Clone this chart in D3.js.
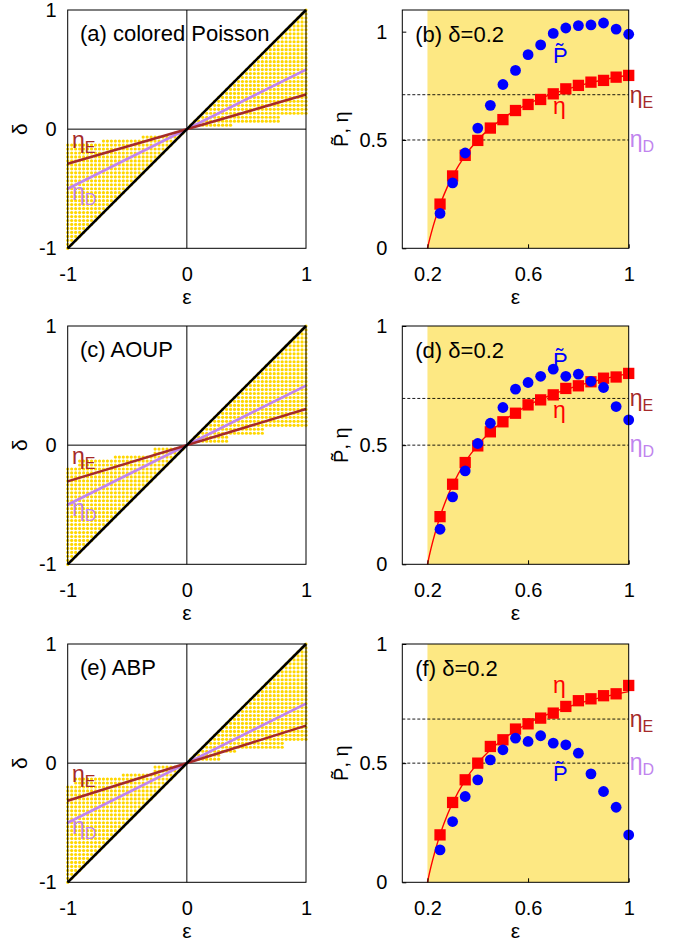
<!DOCTYPE html>
<html>
<head>
<meta charset="utf-8">
<script src="https://cdn.jsdelivr.net/npm/d3@7"></script>
<style>
  body { margin: 0; background: #fff; }
  svg { display: block; }
  text { font-family: "Liberation Sans", Arial, sans-serif; }
</style>
</head>
<body>
<svg id="fig" width="684" height="941"></svg>
<script>
// ---------------- data ----------------
// sampled activity values for the efficiency / power runs at fixed delta
const epsSamples = [0.25, 0.30, 0.35, 0.40, 0.45, 0.50, 0.55, 0.60, 0.65, 0.70, 0.75, 0.80, 0.85, 0.90, 0.95, 1.00];

// (b) colored Poisson
const etaB = [0.204, 0.334, 0.429, 0.498, 0.555, 0.594, 0.636, 0.664, 0.687, 0.713, 0.736, 0.752, 0.767, 0.775, 0.790, 0.798];
const powB = [0.161, 0.302, 0.440, 0.555, 0.660, 0.756, 0.821, 0.894, 0.939, 0.992, 1.017, 1.028, 1.031, 1.040, 1.012, 0.988];
// (d) AOUP
const etaD = [0.200, 0.336, 0.427, 0.497, 0.556, 0.598, 0.634, 0.669, 0.690, 0.711, 0.738, 0.749, 0.766, 0.781, 0.786, 0.801];
const powD = [0.147, 0.283, 0.392, 0.507, 0.592, 0.658, 0.735, 0.763, 0.789, 0.819, 0.789, 0.798, 0.768, 0.742, 0.662, 0.606];
// (f) ABP
const etaF = [0.199, 0.335, 0.430, 0.500, 0.570, 0.598, 0.643, 0.665, 0.689, 0.710, 0.738, 0.762, 0.770, 0.783, 0.791, 0.826];
const powF = [0.136, 0.255, 0.360, 0.430, 0.514, 0.556, 0.605, 0.591, 0.615, 0.584, 0.577, 0.542, 0.455, 0.381, 0.315, 0.199];

// theoretical efficiency curve at delta = 0.2
const curveEps = [0.20, 0.21, 0.22, 0.23, 0.25, 0.28, 0.30, 0.35, 0.40, 0.50, 0.60, 0.70, 0.80, 0.90, 1.00];
const curveEta = [0.000, 0.048, 0.091, 0.130, 0.200, 0.286, 0.333, 0.429, 0.500, 0.600, 0.667, 0.714, 0.750, 0.778, 0.800];

// reference efficiencies per model
const etaEValues = [0.709, 0.696, 0.685];
const etaDValue = 0.5;
const deltaFixed = 0.2;

// shaded parameter region on a 1/30 grid:
// positive quadrant steps: [first column, last column, lowest row]  (rows go up to the diagonal)
// negative quadrant steps: [first column, last column, highest row] (rows start at the diagonal)
const GRID = 30;
const regionPosA = [[1, 11, 1], [12, 23, 2], [24, 30, 4]];
const regionNegA = [[-30, -22, -4], [-21, -12, -3], [-11, -4, -2], [-3, -1, -1]];
const regionPosC = [[1, 10, 1], [11, 19, 3], [20, 30, 5]];
const regionNegC = [[-30, -28, -6], [-27, -19, -4], [-18, -9, -3], [-8, -1, -1]];
const regionPosE = [[1, 8, 1], [9, 12, 3], [13, 24, 4], [25, 30, 6]];
const regionNegE = [[-30, -29, -6], [-28, -17, -4], [-16, -9, -3], [-8, -1, -1]];

// tick labels
const leftTicks = [-1, 0, 1];
const rightXTicks = [0.2, 0.6, 1];
const rightYTicks = [0, 0.5, 1];

// ---------------- layout ----------------
const svg = d3.select('#fig');
const rowTops = [10, 326, 644];
const PH = 238.3;
const LX0 = 67.7, LX1 = 306;
const RX0 = 402.3, RX1 = 628.7;
const FS = 20;
const GFS = 23;     // greek symbol labels
const C = {
  gold: '#FFD700', brown: '#A52A2A', lilac: '#C084EE', shade: '#FDE883',
  red: '#FF0000', blue: '#0000FF'
};
const tickText = d => String(d);

function etaLabel(g, x, y, sub, color) {
  const t = g.append('text').attr('x', x).attr('y', y).attr('fill', color).attr('font-size', GFS);
  t.append('tspan').text('η');
  t.append('tspan').attr('font-size', 16).attr('dy', 5).text(sub);
  return t;
}

function styleAxis(ax) {
  ax.select('.domain').remove();
  ax.selectAll('text').attr('font-size', FS).attr('fill', '#000')
    .attr('font-family', '"Liberation Sans", Arial, sans-serif');
  ax.selectAll('line').attr('stroke', '#000');
}

function leftPanel(top, title, etaE, posSteps, negSteps) {
  const x = d3.scaleLinear().domain([-1, 1]).range([LX0, LX1]);
  const y = d3.scaleLinear().domain([-1, 1]).range([top + PH, top]);
  const g = svg.append('g');

  const pts = [];
  posSteps.forEach(([k0, k1, m0]) => {
    for (let k = k0; k <= k1; k++) for (let m = m0; m <= k; m++) pts.push([k / GRID, m / GRID]);
  });
  negSteps.forEach(([k0, k1, m1]) => {
    for (let k = k0; k <= k1; k++) for (let m = k; m <= m1; m++) pts.push([k / GRID, m / GRID]);
  });
  g.append('g').selectAll('circle').data(pts).join('circle')
    .attr('cx', d => x(d[0])).attr('cy', d => y(d[1])).attr('r', 1.6).attr('fill', C.gold);

  // zero axes
  g.append('line').attr('x1', x(-1)).attr('x2', x(1)).attr('y1', y(0)).attr('y2', y(0))
    .attr('stroke', '#000').attr('stroke-width', 1);
  g.append('line').attr('x1', x(0)).attr('x2', x(0)).attr('y1', y(-1)).attr('y2', y(1))
    .attr('stroke', '#000').attr('stroke-width', 1);

  // reference lines delta = (1 - eta) * eps
  const lineGen = d3.line().x(d => x(d[0])).y(d => y(d[1]));
  g.append('path').attr('d', lineGen([[-1, -(1 - etaDValue)], [1, 1 - etaDValue]]))
    .attr('stroke', C.lilac).attr('stroke-width', 2.6).attr('fill', 'none');
  g.append('path').attr('d', lineGen([[-1, -(1 - etaE)], [1, 1 - etaE]]))
    .attr('stroke', C.brown).attr('stroke-width', 2.6).attr('fill', 'none');
  g.append('path').attr('d', lineGen([[-1, -1], [1, 1]]))
    .attr('stroke', '#000').attr('stroke-width', 2.6).attr('fill', 'none');

  g.append('rect').attr('x', LX0).attr('y', top).attr('width', LX1 - LX0).attr('height', PH)
    .attr('fill', 'none').attr('stroke', '#000').attr('stroke-width', 1);

  const ax = g.append('g').attr('transform', `translate(0,${top + PH})`)
    .call(d3.axisBottom(x).tickValues(leftTicks).tickSize(0).tickPadding(18.5).tickFormat(tickText));
  styleAxis(ax);
  const ay = g.append('g').attr('transform', `translate(${LX0},0)`)
    .call(d3.axisLeft(y).tickValues(leftTicks).tickSize(0).tickPadding(11).tickFormat(tickText));
  styleAxis(ay);

  g.append('text').attr('x', x(0)).attr('y', top + PH + 56).attr('text-anchor', 'middle')
    .attr('font-size', 21).text('ε');
  g.append('text').attr('transform', `translate(27,${top + PH / 2}) rotate(-90)`)
    .attr('text-anchor', 'middle').attr('font-size', 21).text('δ');

  g.append('text').attr('x', 80).attr('y', top + 31).attr('font-size', 22).text(title);
  etaLabel(g, 72, top + 138, 'E', C.brown);
  etaLabel(g, 72, top + 190, 'D', C.lilac);
}

function rightPanel(top, title, yMax, eta, pow, etaE, lay) {
  const x = d3.scaleLinear().domain([0.1, 1]).range([RX0, RX1]);
  const y = d3.scaleLinear().domain([0, yMax]).range([top + PH, top]);
  const g = svg.append('g');

  g.append('rect').attr('x', x(deltaFixed)).attr('y', top).attr('width', x(1) - x(deltaFixed))
    .attr('height', PH).attr('fill', C.shade);

  [etaE, etaDValue].forEach(v => {
    g.append('line').attr('x1', RX0).attr('x2', RX1).attr('y1', y(v)).attr('y2', y(v))
      .attr('stroke', '#000').attr('stroke-width', 0.9).attr('stroke-dasharray', '3,2');
  });

  const curve = curveEps.map((e, i) => [e, curveEta[i]]);
  g.append('path').attr('d', d3.line().x(d => x(d[0])).y(d => y(d[1])).curve(d3.curveMonotoneX)(curve))
    .attr('stroke', C.red).attr('stroke-width', 1.4).attr('fill', 'none');

  const sq = 11.3;
  g.append('g').selectAll('rect').data(epsSamples.map((e, i) => [e, eta[i]])).join('rect')
    .attr('x', d => x(d[0]) - sq / 2).attr('y', d => y(d[1]) - sq / 2)
    .attr('width', sq).attr('height', sq).attr('fill', C.red);
  g.append('g').selectAll('circle').data(epsSamples.map((e, i) => [e, pow[i]])).join('circle')
    .attr('cx', d => x(d[0])).attr('cy', d => y(d[1])).attr('r', 5.4).attr('fill', C.blue);

  g.append('rect').attr('x', RX0).attr('y', top).attr('width', RX1 - RX0).attr('height', PH)
    .attr('fill', 'none').attr('stroke', '#000').attr('stroke-width', 1);

  const ax = g.append('g').attr('transform', `translate(0,${top + PH})`)
    .call(d3.axisBottom(x).tickValues(rightXTicks).tickSizeInner(-4).tickSizeOuter(0).tickPadding(18.5)
      .tickFormat(tickText));
  styleAxis(ax);
  const ay = g.append('g').attr('transform', `translate(${RX0},0)`)
    .call(d3.axisLeft(y).tickValues(rightYTicks).tickSizeInner(-4).tickSizeOuter(0).tickPadding(15)
      .tickFormat(tickText));
  styleAxis(ay);

  g.append('text').attr('x', x(0.55)).attr('y', top + PH + 56).attr('text-anchor', 'middle')
    .attr('font-size', 21).text('ε');
  g.append('text').attr('transform', `translate(348,${top + PH / 2}) rotate(-90)`)
    .attr('text-anchor', 'middle').attr('font-size', FS).text('P\u0303, η');

  g.append('text').attr('x', RX0 + 13).attr('y', top + 31.5).attr('font-size', 22).text(title);

  g.append('text').attr('x', RX0 + lay.pow[0]).attr('y', top + lay.pow[1]).attr('font-size', 22)
    .attr('fill', C.blue).text('P\u0303');
  g.append('text').attr('x', RX0 + lay.eta[0]).attr('y', top + lay.eta[1]).attr('font-size', GFS)
    .attr('fill', C.red).text('η');

  etaLabel(g, RX1 + 1, y(etaE) + 8, 'E', C.brown);
  etaLabel(g, RX1 + 1, y(etaDValue) + 7, 'D', C.lilac);
}

leftPanel(rowTops[0], '(a) colored Poisson', etaEValues[0], regionPosA, regionNegA);
leftPanel(rowTops[1], '(c) AOUP', etaEValues[1], regionPosC, regionNegC);
leftPanel(rowTops[2], '(e) ABP', etaEValues[2], regionPosE, regionNegE);

rightPanel(rowTops[0], '(b) δ=0.2', 1.1, etaB, powB, etaEValues[0], { pow: [150.7, 52.6], eta: [150.7, 104] });
rightPanel(rowTops[1], '(d) δ=0.2', 1.0, etaD, powD, etaEValues[1], { pow: [150.7, 41.6], eta: [150.7, 92] });
rightPanel(rowTops[2], '(f) δ=0.2', 1.0, etaF, powF, etaEValues[2], { pow: [150.7, 137], eta: [150.7, 49] });
</script>
</body>
</html>
